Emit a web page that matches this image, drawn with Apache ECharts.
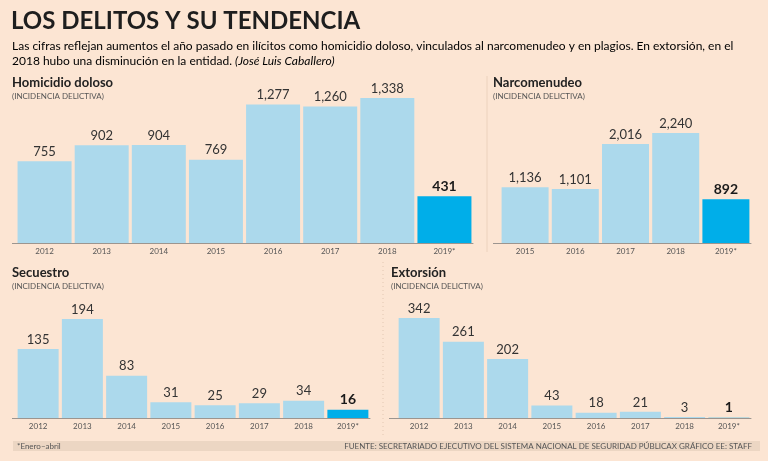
<!DOCTYPE html>
<html>
<head>
<meta charset="utf-8">
<script src="https://cdn.jsdelivr.net/npm/echarts@6/dist/echarts.min.js"></script>
<style>
  html, body { margin: 0; padding: 0; background: #fce5d3; }
  #main { width: 768px; height: 461px; }
</style>
</head>
<body>
<div id="main"></div>
<script>
// datos
var homYears = ['2012', '2013', '2014', '2015', '2016', '2017', '2018', '2019*'];
var homValues = [755, 902, 904, 769, 1277, 1260, 1338, 431];
var narYears = ['2015', '2016', '2017', '2018', '2019*'];
var narValues = [1136, 1101, 2016, 2240, 892];
var secYears = ['2012', '2013', '2014', '2015', '2016', '2017', '2018', '2019*'];
var secValues = [135, 194, 83, 31, 25, 29, 34, 16];
var extYears = ['2012', '2013', '2014', '2015', '2016', '2017', '2018', '2019*'];
var extValues = [342, 261, 202, 43, 18, 21, 3, 1];

var FONT = 'Lato, "Open Sans", sans-serif';
var LIGHT = '#acd9ec';
var DARK = '#00aee9';
var AXIS = '#9c958f';

var chart = echarts.init(document.getElementById('main'));

function fmt(v) {
  return v.toLocaleString('en-US');
}

// la ultima barra (2019*) va resaltada
function barData(values) {
  return values.map(function (v, i) {
    if (i === values.length - 1) {
      return {
        value: v,
        itemStyle: { color: DARK },
        label: { fontWeight: 'bold', fontSize: 14, color: '#1a1a1a' }
      };
    }
    return v;
  });
}

function xAxis(idx, cats) {
  return {
    type: 'category', gridIndex: idx, data: cats,
    axisLine: { lineStyle: { color: AXIS, width: 1 } },
    axisTick: { show: false },
    axisLabel: { color: '#555', fontSize: 8, fontFamily: FONT, margin: 4 }
  };
}

function yAxis(idx, max) {
  return { type: 'value', gridIndex: idx, min: 0, max: max, show: false };
}

function series(idx, values, width) {
  return {
    type: 'bar', xAxisIndex: idx, yAxisIndex: idx,
    data: barData(values),
    barWidth: width,
    itemStyle: { color: LIGHT },
    label: {
      show: true, position: 'top', distance: 3,
      fontSize: 13, color: '#333', fontFamily: FONT,
      formatter: function (p) { return fmt(p.value); }
    },
    silent: true
  };
}

function panelTitle(text, x, y) {
  return {
    text: text, subtext: '(INCIDENCIA DELICTIVA)',
    left: x, top: y, itemGap: 3, padding: 0,
    textStyle: { fontSize: 13, fontWeight: 'bold', color: '#222', fontFamily: FONT },
    subtextStyle: { fontSize: 8, color: '#555', fontFamily: FONT }
  };
}

function axisStub(x1, x2, y) {
  return { type: 'line', shape: { x1: x1, y1: y + 0.5, x2: x2, y2: y + 0.5 }, style: { stroke: AXIS, lineWidth: 1 } };
}

var option = {
  backgroundColor: '#fce5d3',
  animation: false,
  title: [
    {
      text: 'LOS DELITOS Y SU TENDENCIA',
      left: 11, top: 9, padding: 0,
      textStyle: { fontSize: 24, fontWeight: 'bold', color: '#1e1e1e', fontFamily: FONT }
    },
    panelTitle('Homicidio doloso', 12, 76),
    panelTitle('Narcomenudeo', 493, 76),
    panelTitle('Secuestro', 12, 266),
    panelTitle('Extorsión', 391, 266)
  ],
  grid: [
    { left: 16, right: 295, top: 98, bottom: 218 },
    { left: 500, right: 17, top: 133, bottom: 218 },
    { left: 16, right: 398, top: 319, bottom: 43 },
    { left: 397, right: 17, top: 318, bottom: 43 }
  ],
  xAxis: [xAxis(0, homYears), xAxis(1, narYears), xAxis(2, secYears), xAxis(3, extYears)],
  yAxis: [yAxis(0, 1338), yAxis(1, 2240), yAxis(2, 194), yAxis(3, 342)],
  series: [
    series(0, homValues, 54),
    series(1, narValues, 47),
    series(2, secValues, 41),
    series(3, extValues, 41)
  ],
  graphic: [
    {
      type: 'text', left: 12, top: 40,
      style: {
        text: '{n|Las cifras reflejan aumentos el año pasado en ilícitos como homicidio doloso, vinculados al narcomenudeo y en plagios. En extorsión, en el}\n{n|2018 hubo una disminución en la entidad. }{i|(José Luis Caballero)}',
        rich: {
          n: { fontSize: 12, color: '#2b2b2b', fontFamily: FONT, lineHeight: 15 },
          i: { fontSize: 12, color: '#2b2b2b', fontFamily: FONT, fontStyle: 'italic', lineHeight: 15 }
        }
      }
    },
    // separadores
    { type: 'line', shape: { x1: 487, y1: 76, x2: 487, y2: 252 }, style: { stroke: '#ecd2bd', lineWidth: 1 } },
    { type: 'line', shape: { x1: 383, y1: 262, x2: 383, y2: 436 }, style: { stroke: '#e2c7b2', lineWidth: 1, lineDash: [1, 3] } },
    // ejes un poco mas largos a la izquierda
    axisStub(12, 16, 243),
    axisStub(493, 500, 243),
    axisStub(12, 16, 418),
    axisStub(389, 397, 418),
    // pie
    { type: 'rect', shape: { x: 13, y: 441, width: 747, height: 10 }, style: { fill: '#ecd6c3' } },
    {
      type: 'text', left: 17, top: 442,
      style: { text: '*Enero–abril', fontSize: 8, fill: '#555', fontFamily: FONT }
    },
    {
      type: 'text', right: 16, top: 442,
      style: { text: 'FUENTE: SECRETARIADO EJECUTIVO DEL SISTEMA NACIONAL DE SEGURIDAD PÚBLICAX GRÁFICO EE: STAFF', fontSize: 8, fill: '#555', fontFamily: FONT }
    }
  ]
};

chart.setOption(option);
</script>
</body>
</html>
